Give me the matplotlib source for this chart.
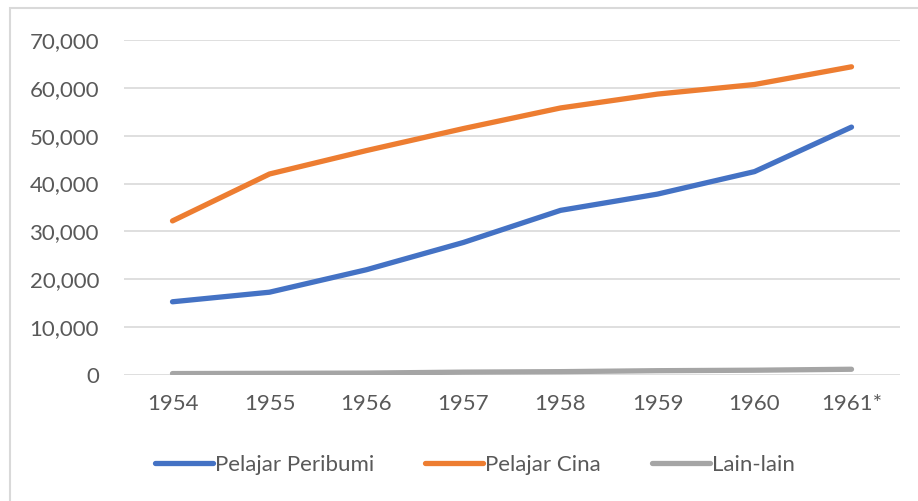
import matplotlib.pyplot as plt
import numpy as np
from matplotlib.patches import Rectangle
from matplotlib.ticker import FuncFormatter

plt.rcParams["font.family"] = ["Lato", "DejaVu Sans"]

years = ["1954", "1955", "1956", "1957", "1958", "1959", "1960", "1961*"]
peribumi = [15300, 17300, 22000, 27700, 34400, 37800, 42500, 51800]
cina = [32200, 42000, 46900, 51500, 55800, 58700, 60700, 64400]
lain = [300, 350, 400, 600, 700, 900, 1000, 1200]

text_color = "#595959"

fig = plt.figure(figsize=(9.18, 5.01), dpi=100)
ax = fig.add_axes([124 / 918, 1 - 375 / 501, 776 / 918, 335 / 501])

# chart frame
fig.patches.append(Rectangle((10 / 918, -0.05), 1.0, 1 - 8 / 501 + 0.05,
                             transform=fig.transFigure, fill=False,
                             edgecolor="#D9D9D9", linewidth=1.5))

x = np.arange(len(years))
ax.plot(x, peribumi, color="#4472C4", lw=3.8, solid_capstyle="round", label="Pelajar Peribumi")
ax.plot(x, cina, color="#ED7D31", lw=3.8, solid_capstyle="round", label="Pelajar Cina")
ax.plot(x, lain, color="#A5A5A5", lw=3.8, solid_capstyle="round", label="Lain-lain")

ax.set_xlim(-0.5, len(years) - 0.5)
ax.set_ylim(0, 70000)
ax.set_yticks(np.arange(0, 70001, 10000))
ax.yaxis.set_major_formatter(FuncFormatter(lambda v, p: f"{int(v):,}"))
ax.set_xticks(x)
ax.set_xticklabels(years)

ax.grid(axis="y", color="#D9D9D9", linewidth=1.2)
ax.set_axisbelow(True)
for s in ax.spines.values():
    s.set_visible(False)
ax.tick_params(axis="both", length=0, labelsize=16, labelcolor=text_color)
ax.tick_params(axis="y", pad=18)
ax.tick_params(axis="x", pad=14)

fig.legend(loc="center", bbox_to_anchor=(475 / 918, 1 - 465 / 501), ncol=3, frameon=False,
           fontsize=16, labelcolor=text_color, handlelength=2.6, handletextpad=0.1,
           columnspacing=2.3)

plt.savefig("out.png", dpi=100)
